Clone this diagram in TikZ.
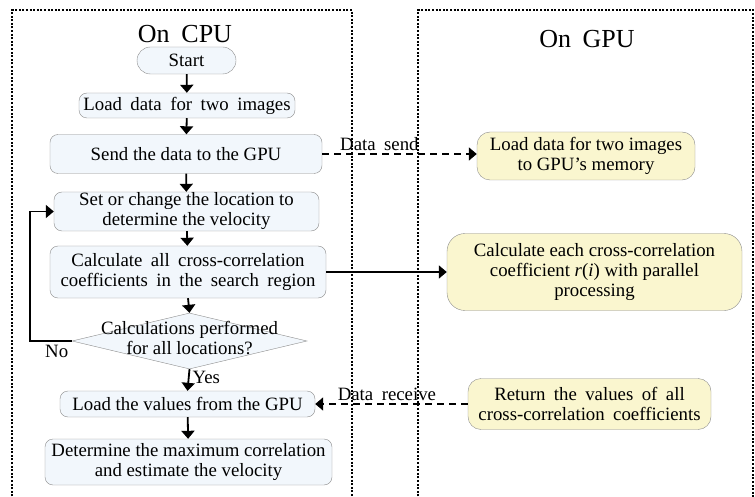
\documentclass[tikz,border=0pt]{standalone}
\usepackage{fontspec}
\setmainfont{Liberation Serif}
\usetikzlibrary{arrows.meta,shapes.geometric}
\definecolor{cpufill}{RGB}{242,247,252}
\definecolor{gpufill}{RGB}{250,246,207}
\definecolor{boxline}{RGB}{140,140,140}

\begin{document}
\begin{tikzpicture}[x=1pt,y=-1pt,
	every node/.style={font=\fontsize{18.8}{20}\selectfont},
	cpubox/.style={draw=boxline,fill=cpufill,rounded corners=8pt,inner sep=0pt,align=center},
	gpubox/.style={draw=boxline,fill=gpufill,rounded corners=13pt,inner sep=0pt,align=center},
	wide/.style={execute at begin node={\spaceskip=0.45em plus 0.1em\relax}},
	title/.style={font=\fontsize{26}{28}\selectfont,execute at begin node={\spaceskip=0.45em\relax}},
	arr/.style={line width=1.8pt,-{Triangle[length=8pt,width=13pt]}},
	dashlink/.style={dash pattern=on 7pt off 5pt},
	frame/.style={line width=2pt,dash pattern=on 2pt off 1.6pt}]
	\useasboundingbox (0,0) rectangle (755,497);
	\clip (0,0) rectangle (755,497);
	\draw[frame] (12,500) |- (352,10) -- (352,500);
	\draw[frame] (418,500) |- (753,10) -- (753,500);
	\node[title] (cpu) at (185,34) {On CPU};
	\node[title] (gpu) at (587,39) {On GPU};

	\node[cpubox,rounded corners=13.5pt,minimum width=99pt,minimum height=27pt] (start) at (186.5,60.5) {Start};
	\node[cpubox,wide,minimum width=216pt,minimum height=25pt] (load) at (187,105.5) {Load data for two images};
	\node[cpubox,minimum width=272pt,minimum height=39pt] (send) at (186,154) {Send the data to the GPU};
	\node[cpubox,minimum width=265pt,minimum height=39pt] (setloc) at (186.5,211.5) {Set or change the location to\\determine the velocity};
	\node[cpubox,wide,minimum width=276pt,minimum height=52pt] (calcall) at (188,272) {Calculate all cross-correlation\\coefficients in the search region};
	\node[diamond,draw=boxline,fill=cpufill,inner sep=0pt,minimum width=235pt,minimum height=56pt] (dec) at (189.5,341) {};
	\node[align=center,inner sep=0pt] (dectext) at (189.5,338) {Calculations performed\\for all locations?};
	\node[cpubox,minimum width=255pt,minimum height=26pt] (loadval) at (187.5,404) {Load the values from the GPU};
	\node[cpubox,minimum width=287pt,minimum height=46pt] (maxcorr) at (188.5,462) {Determine the maximum correlation\\and estimate the velocity};

	\node[gpubox,minimum width=218pt,minimum height=48pt] (gpuload) at (586,156) {Load data for two images\\to GPU's memory};
	\node[gpubox,rounded corners=18pt,minimum width=295pt,minimum height=77pt] (gpucalc) at (594.5,272) {Calculate each cross-correlation\\coefficient \textit{r}(\textit{i}) with parallel\\processing};
	\node[gpubox,wide,minimum width=243pt,minimum height=51pt] (gpuret) at (589.5,404) {Return the values of all\\cross-correlation coefficients};

	\draw[arr] (start) -- (load);
	\draw[arr] (load) -- (send);
	\draw[arr] (send) -- (setloc);
	\draw[arr] (setloc) -- (calcall);
	\draw[arr] (calcall.south) -- (dec.north);
	\draw[arr] (dec.south) -- node[right,pos=0.4,inner sep=3pt] (yes) {Yes} (loadval.north);
	\draw[arr] (loadval) -- (maxcorr);
	\draw[arr] (dec.west) -- node[below,pos=0.36,inner sep=3pt] (no) {No} ++(-42,0) |- (setloc.west);

	\draw[arr,dashlink] (send.east) -- node[above,pos=0.37,inner sep=2pt,wide] (sendlbl) {Data send} (gpuload.west |- send.east);
	\draw[arr] (calcall.east) -- (gpucalc.west);
	\draw[arr,dashlink] (gpuret.west) -- node[above,pos=0.53,inner sep=2pt,wide] (recvlbl) {Data receive} (loadval.east);
\end{tikzpicture}
\end{document}
